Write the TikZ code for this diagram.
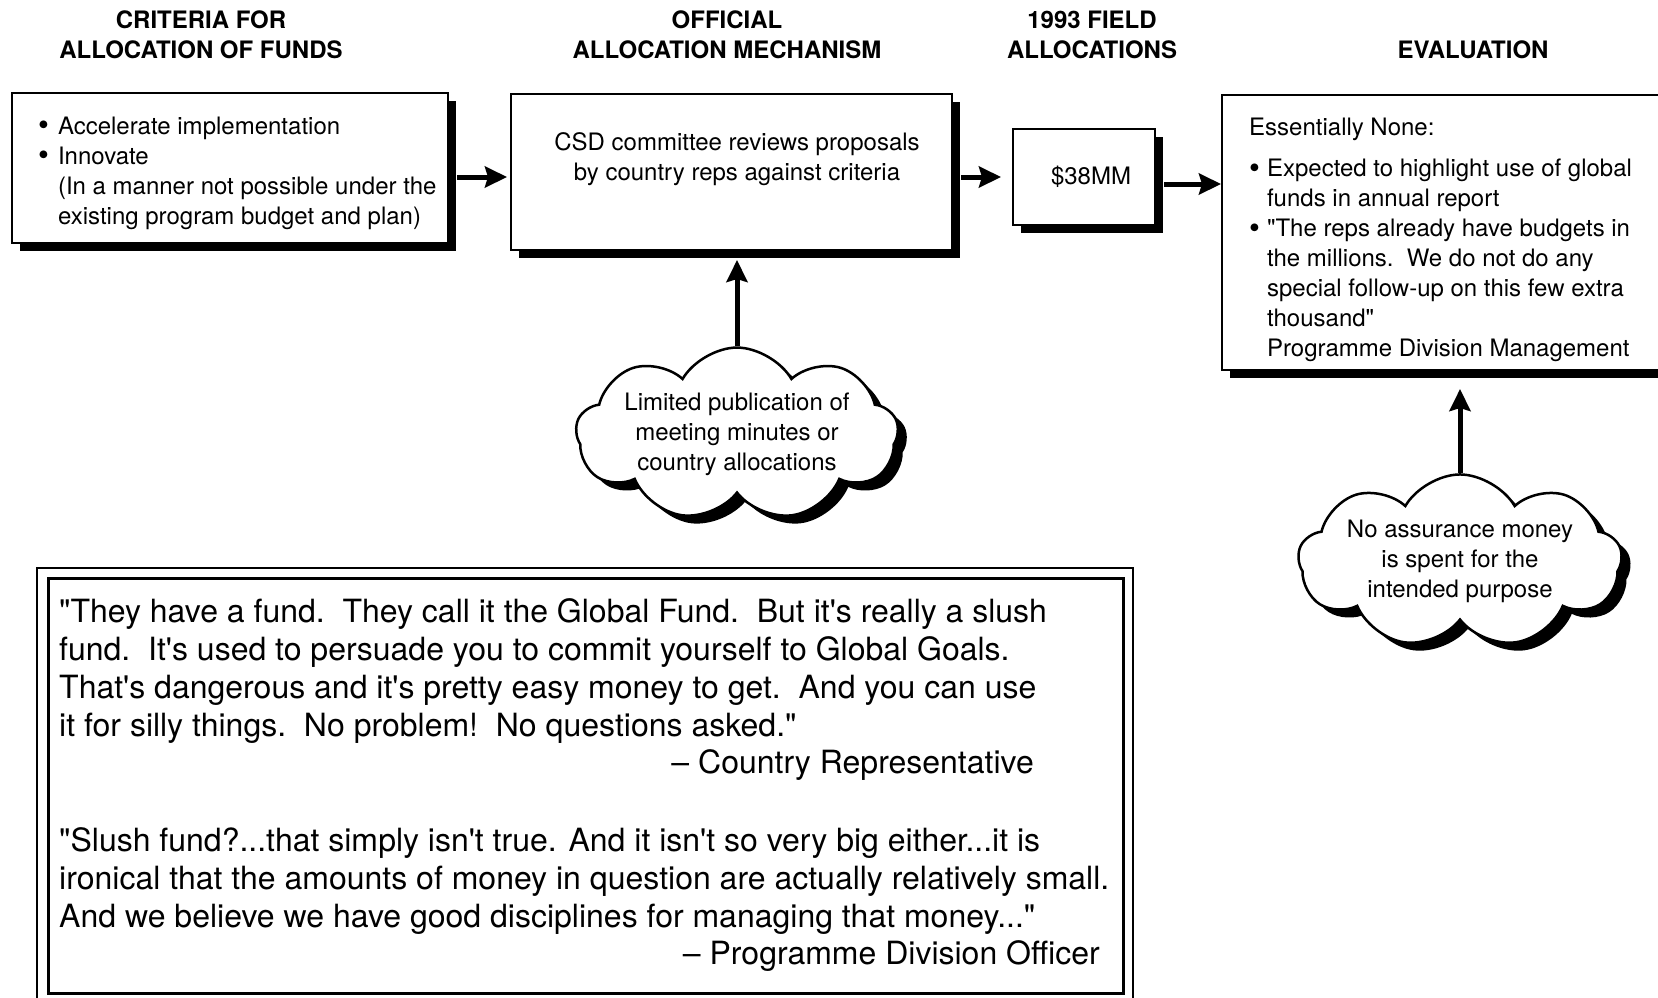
\documentclass[tikz,border=0pt]{standalone}
\usepackage{fontspec}
\setmainfont{TeX Gyre Heros}
\usetikzlibrary{arrows.meta,shapes.symbols,shadows}
\newcommand{\hdrfont}{\fontsize{24}{30}\selectfont\bfseries}
\newcommand{\boxfont}{\fontsize{24}{30}\selectfont}
\newcommand{\qtfont}{\fontsize{32}{38}\selectfont}
\newcommand{\apos}{\textquotesingle}
\newcommand{\qq}{\textquotedbl}
\newcommand{\dotmark}{\raisebox{-1.5pt}{\fontsize{31}{30}\selectfont\textbullet}}
\tikzset{
  >={Stealth[length=22pt,width=21pt,inset=3pt]},
  hdr/.style={font=\hdrfont,align=center,inner sep=0pt},
  txt/.style={font=\boxfont,align=center,inner sep=0pt},
  flowbox/.style={draw,line width=2pt,fill=white,inner sep=0pt,
    drop shadow={fill=black,opacity=1,shadow xshift=8pt,shadow yshift=-8pt}},
  bubble/.style={cloud,cloud puffs=9,cloud puff arc=120,cloud ignores aspect,
    draw,line width=2.5pt,fill=white,font=\boxfont,align=center,inner sep=0pt,
    minimum width=310pt,minimum height=168pt,
    drop shadow={fill=black,opacity=1,shadow xshift=9pt,shadow yshift=-8pt}},
  quotetxt/.style={font=\qtfont,align=left,anchor=north west,inner sep=0pt},
  saidby/.style={font=\qtfont,anchor=base east,inner sep=0pt},
  flow/.style={->,line width=5pt},
}
\begin{document}
\begin{tikzpicture}[x=1pt,y=-1pt]
\useasboundingbox (0,0) rectangle (1658,997);
\fill[white] (0,0) rectangle (1658,997);

% ================= HEADINGS =================
\node[hdr] (hCrit) at (201,35) {CRITERIA FOR\\ALLOCATION OF FUNDS};
\node[hdr] (hMech) at (727,35) {OFFICIAL\\ALLOCATION MECHANISM};
\node[hdr] (hField) at (1092,35) {1993 FIELD\\ALLOCATIONS};
\node[hdr] (hEval) at (1473,50) {EVALUATION};

% ================= FLOW BOXES =================
\node[flowbox,minimum width=436pt,minimum height=150pt] (crit) at (230,168) {};
\node[txt,anchor=west] (critTxt) at (38,173) {\begin{tabular}{@{}l@{\hspace{9pt}}l@{}}
  \dotmark & Accelerate implementation\\
  \dotmark & Innovate\\
   & (In a manner not possible under the\\
   & existing program budget and plan)
  \end{tabular}};

\node[flowbox,minimum width=441pt,minimum height=156pt] (mech) at (731.5,172) {};
\node[txt] (mechTxt) at (737,159) {CSD committee reviews proposals\\by country reps against criteria};

\node[flowbox,minimum width=142pt,minimum height=96pt] (field) at (1084,177) {};
\node[txt] (fieldTxt) at (1091,177) {\$38MM};

\node[flowbox,minimum width=448pt,minimum height=275pt] (eval) at (1446,232.5) {};
\node[txt,anchor=west] (evalTxt) at (1249,240) {\begin{tabular}{@{}l@{\hspace{7pt}}l@{}}
  \multicolumn{2}{@{}l@{}}{Essentially None:}\\[11pt]
  \dotmark & Expected to highlight use of global\\
   & funds in annual report\\
  \dotmark & \qq The reps already have budgets in\\
   & the millions.\ \ We do not do any\\
   & special follow-up on this few extra\\
   & thousand\qq\\
   & Programme Division Management
  \end{tabular}};

\draw[flow,shorten >=3pt] ([xshift=8pt]crit.east |- field.west) -- (mech.west |- field.west);
\draw[flow] ([xshift=8pt]mech.east |- field.west) -- ([xshift=-11pt]field.west);
\draw[flow] ([xshift=8pt,yshift=-7pt]field.east) -- ([yshift=-7pt]field.east -| eval.west);

% ================= CLOUDS =================
\node[bubble] (limPub) at (737,434) {Limited publication of\\meeting minutes or\\country allocations};
\node[bubble] (noAssur) at (1460,561) {No assurance money\\is spent for the\\intended purpose};
\draw[flow] (limPub.north) -- ([yshift=-9pt]limPub.north |- mech.south);
\draw[flow] (noAssur.north) -- ([yshift=-18pt]noAssur.north |- eval.south);

% ================= QUOTES =================
\draw[line width=2pt] (37,568) rectangle (1133,1002);
\draw[line width=3pt] (48,578) rectangle (1123,993);
\node[quotetxt] (quoteA) at (59,598) {\qq They have a fund.\ \ They call it the Global Fund.\ \ But it\apos s really a slush\\
fund.\ \ It\apos s used to persuade you to commit yourself to Global Goals.\\
That\apos s dangerous and it\apos s pretty easy money to get.\ \ And you can use\\
it for silly things.\ \ No problem!\ \ No questions asked.\qq};
\node[saidby] (saidA) at (1034,773) {– Country Representative};
\node[quotetxt] (quoteB) at (59,827) {\qq Slush fund?...that simply isn\apos t true. And it isn\apos t so very big either...it is\\
ironical that the amounts of money in question are actually relatively small.\\
And we believe we have good disciplines for managing that money...\qq};
\node[saidby] (saidB) at (1100,964) {– Programme Division Officer};

\end{tikzpicture}
\end{document}
